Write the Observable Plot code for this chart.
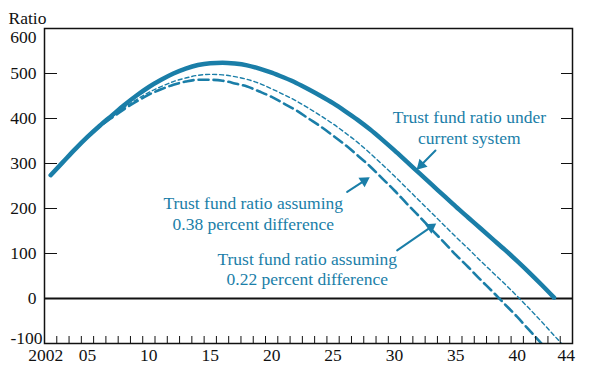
<!DOCTYPE html>
<html><head><meta charset="utf-8">
<script src="https://cdn.jsdelivr.net/npm/d3@7"></script>
<script src="https://cdn.jsdelivr.net/npm/@observablehq/plot@0.6"></script>
<style>
body{margin:0;background:#fff;}
#chart svg{display:block;}
</style>
</head><body><div id="chart"></div>
<script>
// Annual values (plotted at mid-year)
const years = [2002,2003,2004,2005,2006,2007,2008,2009,2010,2011,2012,2013,2014,2015,2016,2017,2018,2019,2020,2021,2022,2023,2024,2025,2026,2027,2028,2029,2030,2031,2032,2033,2034,2035,2036,2037,2038,2039,2040,2041,2042,2043,2044];
const currentSystem = [274,303,332,359,384,407,430,451,470,486,500,511,519,523,524,522,518,511,502,491,479,465,450,434,416,397,376,353,329,304,279,254,229,204,180,156,132,108,83,57,30,2,null];
const diff022 = [274,303,332,359,383,404,424,442,458,471,482,490,496,498,497,493,487,478,466,453,439,423,406,388,368,347,323,298,272,245,218,191,164,137,111,84,58,32,5,-23,-52,-82,-112];
const diff038 = [274,303,332,359,382,402,421,438,453,465,475,482,486,486,484,478,471,460,448,433,418,400,382,362,341,318,294,267,240,211,183,154,126,97,70,42,15,-13,-41,-71,-101,-133,-165];

const yTicks = [-100,0,100,200,300,400,500,600];
const yMidLabels = [0,100,200,300,400,500];
const xTickYears = [2003,2004,2005,2006,2007,2008,2009,2010,2011,2012,2013,2014,2015,2016,2017,2018,2019,2020,2021,2022,2023,2024,2025,2026,2027,2028,2029,2030,2031,2032,2033,2034,2035,2036,2037,2038,2039,2040,2041,2042,2043,2044];
const xLabelYears = [2005,2010,2015,2020,2025,2030,2035,2040,2044];
const xLabelTexts = ["05","10","15","20","25","30","35","40","44"];

const notes = [
  {x: 2036.6, y: 381, text: "Trust fund ratio under\ncurrent system"},
  {x: 2019.0, y: 190, text: "Trust fund ratio assuming\n0.38 percent difference"},
  {x: 2023.4, y: 66, text: "Trust fund ratio assuming\n0.22 percent difference"}
];
const arrows = [
  {x1: 2033.84, y1: 329, x2: 2032.48, y2: 291},
  {x1: 2026.65, y1: 237, x2: 2028.28, y2: 266},
  {x1: 2030.72, y1: 107, x2: 2033.70, y2: 163}
];

const blue = "#1a7ea8";
const W = 589, H = 383, ML = 44, MR = 17, MT = 28, MB = 40;
const xDomain = [2002, 2045], yDomain = [-100, 600];
const kx = (W - ML - MR) / (xDomain[1] - xDomain[0]);
const ky = (H - MT - MB) / (yDomain[1] - yDomain[0]);
// arrowhead direction in screen space
const heads = arrows.map(a => {
  const dx = (a.x2 - a.x1) * kx, dy = -(a.y2 - a.y1) * ky;
  const len = Math.hypot(dx, dy);
  const back = 3.5;
  return {
    x: a.x2 - (dx / len) * back / kx,
    y: a.y2 + (dy / len) * back / ky,
    angle: Math.atan2(dx, -dy) * 180 / Math.PI
  };
});
const rows = (vals) => years.map((yr, i) => ({t: yr + 0.5, v: vals[i]})).filter(d => d.v !== null);

const chart = Plot.plot({
  width: W, height: H,
  marginLeft: ML, marginRight: MR, marginTop: MT, marginBottom: MB,
  x: {domain: xDomain},
  y: {domain: yDomain},
  style: {fontFamily: "'Liberation Serif', 'DejaVu Serif', serif", fontSize: "17.5px", background: "#fff", color: "#111"},
  marks: [
    Plot.ruleY([0], {stroke: "#111", strokeWidth: 2}),
    Plot.line(rows(diff038), {x: "t", y: "v", stroke: blue, strokeWidth: 2.6, strokeDasharray: "10,5", curve: "monotone-x", clip: true}),
    Plot.line(rows(diff022), {x: "t", y: "v", stroke: blue, strokeWidth: 1.4, strokeDasharray: "4,3", curve: "monotone-x", clip: true}),
    Plot.line(rows(currentSystem), {x: "t", y: "v", stroke: blue, strokeWidth: 4.5, curve: "monotone-x", clip: true}),
    Plot.frame({stroke: "#111", strokeWidth: 1.5}),
    Plot.axisX({ticks: xTickYears, tickSize: 7, dy: -7, tickFormat: () => "", label: null, stroke: "#111"}),
    Plot.axisY({anchor: "left", ticks: yTicks, tickSize: 13, dx: 13, tickFormat: () => "", label: null, stroke: "#111"}),
    Plot.axisY({anchor: "right", ticks: yTicks, tickSize: 12, dx: -12, tickFormat: () => "", label: null, stroke: "#111"}),
    Plot.text(yMidLabels, {y: d => d, text: d => String(d), frameAnchor: "left", textAnchor: "end", dx: -8, fill: "#111"}),
    Plot.text([600], {y: d => d, text: d => String(d), frameAnchor: "left", textAnchor: "end", dx: -8, dy: 8.5, fill: "#111"}),
    Plot.text([-100], {y: d => d, text: d => String(d), frameAnchor: "left", textAnchor: "end", dx: -2, dy: -5, fill: "#111"}),
    Plot.text(xLabelYears, {x: d => d + 0.5, text: (d, i) => xLabelTexts[i], frameAnchor: "bottom", dy: 17, fill: "#111"}),
    Plot.text([2002], {x: d => d + 0.5, text: d => String(d), frameAnchor: "bottom", dy: 17, dx: -5, fill: "#111"}),
    Plot.text(["Ratio"], {frameAnchor: "top-left", text: d => d, textAnchor: "start", dx: -36, dy: -16.5, fill: "#111"}),
    Plot.text(notes, {x: "x", y: "y", text: "text", fill: blue, lineHeight: 1.15, textAnchor: "middle"}),
    Plot.arrow(arrows, {x1: "x1", y1: "y1", x2: "x2", y2: "y2", stroke: blue, strokeWidth: 2, headLength: 0}),
    Plot.dot(heads, {x: "x", y: "y", rotate: "angle", symbol: "triangle", r: 4.2, fill: blue, stroke: "none"})
  ]
});
document.getElementById("chart").appendChild(chart);
</script>
</body></html>
